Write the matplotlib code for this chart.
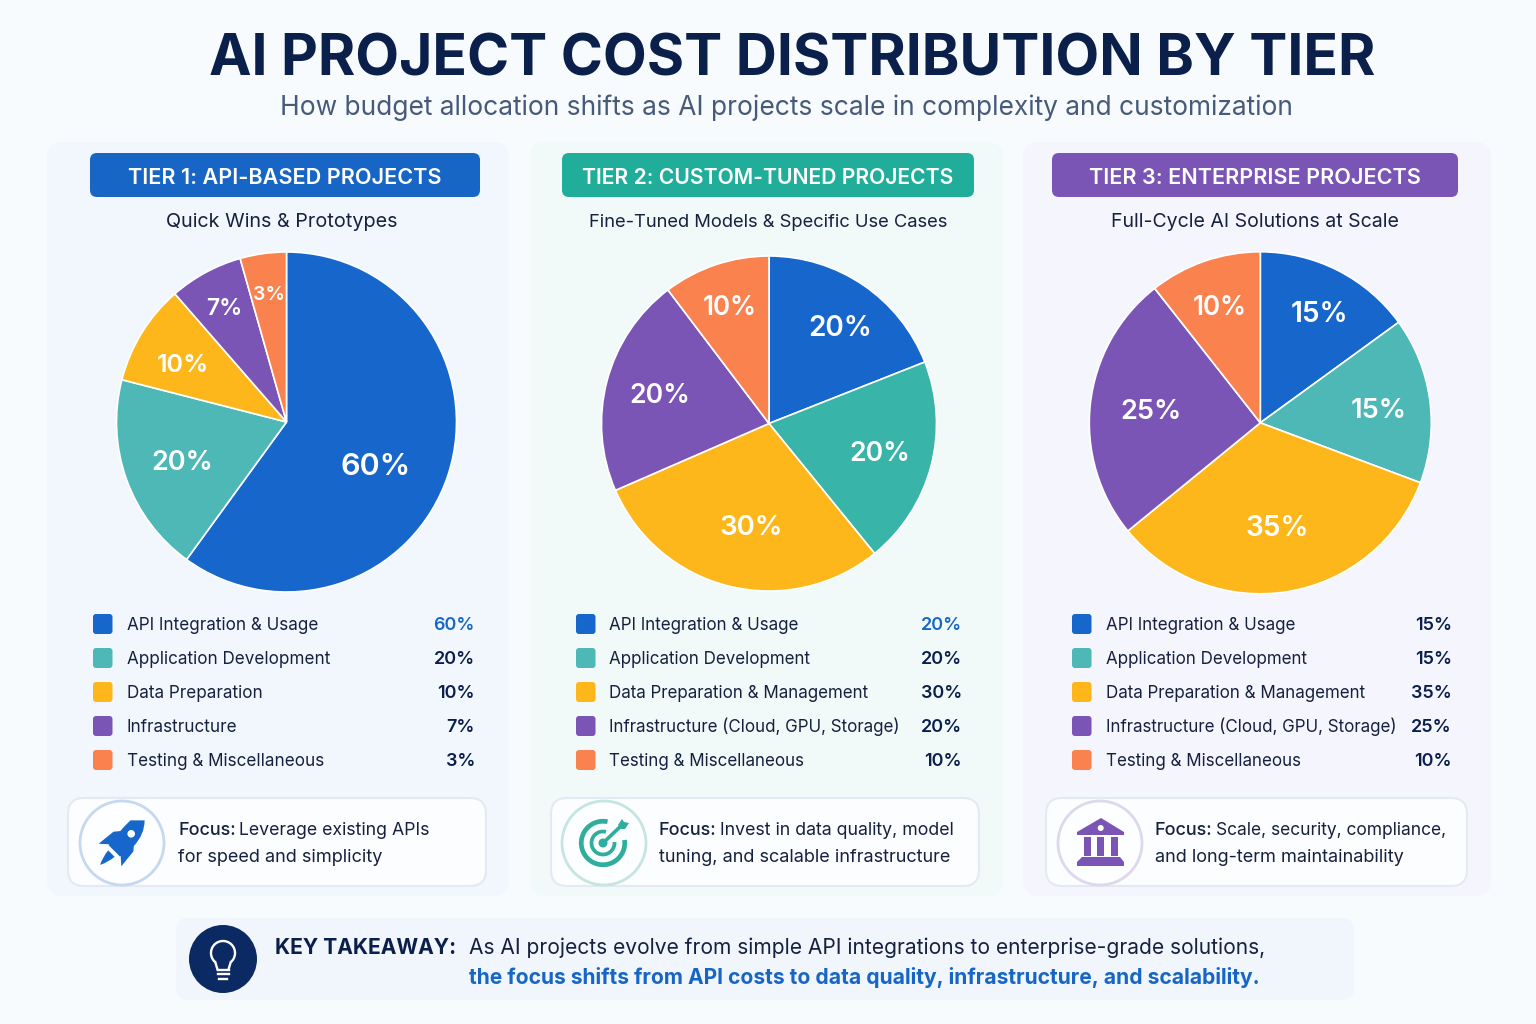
import matplotlib
matplotlib.use("Agg")
import matplotlib.pyplot as plt
from matplotlib.patches import FancyBboxPatch, Circle, Polygon, Arc, PathPatch, Rectangle
from matplotlib.path import Path
from matplotlib.transforms import Affine2D

plt.rcParams['font.family'] = ['Inter', 'DejaVu Sans']

# data
tier_titles = ["TIER 1: API-BASED PROJECTS", "TIER 2: CUSTOM-TUNED PROJECTS", "TIER 3: ENTERPRISE PROJECTS"]
tier_subtitles = ["Quick Wins & Prototypes", "Fine-Tuned Models & Specific Use Cases", "Full-Cycle AI Solutions at Scale"]
# the percentages printed on the chart
tier1_values = [60, 20, 10, 7, 3]
tier2_values = [20, 20, 30, 20, 10]
tier3_values = [15, 15, 35, 25, 10]
# the wedges in the picture are not quite the printed numbers, these are measured off the slices
tier1_drawn = [60, 19, 9.6, 7, 4.4]
tier2_drawn = [19, 20.1, 29.3, 21.2, 10.3]
tier3_drawn = [15, 15.7, 33.4, 25.3, 10.6]
tier1_labels = ["API Integration & Usage", "Application Development", "Data Preparation", "Infrastructure", "Testing & Miscellaneous"]
tier2_labels = ["API Integration & Usage", "Application Development", "Data Preparation & Management",
                "Infrastructure (Cloud, GPU, Storage)", "Testing & Miscellaneous"]
tier3_labels = tier2_labels
focus_text = [("Leverage existing APIs", "for speed and simplicity"),
              ("Invest in data quality, model", "tuning, and scalable infrastructure"),
              ("Scale, security, compliance,", "and long-term maintainability")]

# styles and layout, in pixels
colors = ["#1766cc", "#4db8b5", "#fdb71a", "#7a55b5", "#f9824f"]
NAVY = "#0b1f4b"
INK = "#16213f"
panels = [(47, 509, "#f2f7fd"), (530, 1003, "#f1f9f9"), (1023, 1491, "#f5f5fd")]
headers = [(90, 480, "#1766c6"), (562, 974, "#20ae9b"), (1052, 1458, "#7a55b5")]
pies = [(286.5, 422, 170), (769, 423.5, 167.5), (1260.3, 422.8, 171)]
slice_colors = [colors, ["#1766cc", "#39b4a8", "#fdb71a", "#7a55b5", "#f9824f"], colors]
pct_xy = [[(376, 464), (182, 460), (183, 362), (224, 306), (269, 292)],
          [(840, 325), (880, 451), (751, 525), (660, 393), (730, 305)],
          [(1319, 311), (1379, 408), (1277, 525), (1151, 409), (1220, 305)]]
pct_sizes = [[30.5, 27, 25, 23, 19.5], [28, 26.6, 27.6, 26.6, 26], [28, 27.3, 28, 27.2, 26]]
header_size = [21.6, 21.1, 21.6]
sub_x = [282, 768.5, 1254.5]
sub_size = [19.8, 18.4, 19.5]
label_size = [17.1, 16.95, 16.95]
legend_x = [(93, 127, 474), (576, 609, 961), (1072, 1106, 1451)]
legend_y = [624, 658, 692, 726, 760]
cards = [(68, 486), (551, 979), (1046, 1467)]
circles = [(122, "#c5d8ef"), (604, "#c5e6e0"), (1100, "#ddd8ee")]
focus_x = [178, 659, 1155]
focus_size = [17.7, 17.7, 17.4]

fig = plt.figure(figsize=(15.36, 10.24), dpi=100, facecolor="#f8fbfe")
ax = fig.add_axes([0, 0, 1, 1])
ax.axis("off")


def px(size):
    return size * 0.72


def txt(x, y, s, size, color=INK, weight="normal", ha="left", zorder=6):
    return ax.text(x, y, s, fontsize=px(size), color=color, fontweight=weight, ha=ha, va="baseline", zorder=zorder)


def rbox(x0, y0, x1, y1, r, fc, ec="none", lw=0, zorder=2):
    p = FancyBboxPatch((x0 + r, y0 + r), x1 - x0 - 2 * r, y1 - y0 - 2 * r, boxstyle=f"round,pad={r},rounding_size={r}",
                       fc=fc, ec=ec, lw=lw, zorder=zorder)
    ax.add_patch(p)


def draw_rocket(color):
    # drawn pointing up around the origin, then rotated
    tf = Affine2D().rotate_deg(45).translate(122, 843) + ax.transData
    body = Path([(0, -32), (10, -22), (10.5, -6), (8, 11), (-8, 11), (-10.5, -6), (-10, -22), (0, -32)],
                [Path.MOVETO, Path.CURVE3, Path.CURVE3, Path.LINETO, Path.LINETO, Path.CURVE3, Path.CURVE3, Path.LINETO])
    ax.add_patch(PathPatch(body, fc=color, ec="none", transform=tf, zorder=5))
    ax.add_patch(Polygon([(-9, -8), (-14, -2), (-16, 17), (-7, 9)], fc=color, ec="none", transform=tf, zorder=5))
    ax.add_patch(Polygon([(9, -8), (14, -2), (16, 17), (7, 9)], fc=color, ec="none", transform=tf, zorder=5))
    flame = Path([(-4.5, 15), (4.5, 15), (4, 23), (0, 31), (-4, 23), (-4.5, 15)],
                 [Path.MOVETO, Path.LINETO, Path.CURVE3, Path.CURVE3, Path.CURVE3, Path.CURVE3])
    ax.add_patch(PathPatch(flame, fc=color, ec="none", transform=tf, zorder=5))
    ax.add_patch(Circle((0, -13), 3.8, fc="white", ec="none", transform=tf, zorder=6))


def draw_target(color):
    cx, cy = 603, 843
    ax.add_patch(Arc((cx, cy), 43.5, 43.5, theta1=-8, theta2=282, ec=color, lw=3.4, zorder=5))
    ax.add_patch(Arc((cx, cy), 23, 23, theta1=-5, theta2=285, ec=color, lw=2.7, zorder=5))
    ax.add_patch(Circle((cx, cy), 4.5, fc=color, ec="none", zorder=5))
    ax.plot([cx, 622], [cy, 825], color=color, lw=2.6, solid_capstyle="round", zorder=5)
    ax.add_patch(Polygon([(618, 825), (622, 819), (624, 822), (629, 823), (625, 829), (621, 829)], fc=color, ec="none", zorder=5))


def draw_bank(color):
    ax.add_patch(Polygon([(1101, 818), (1124, 832), (1124, 835), (1077, 835), (1077, 832)], fc=color, ec="none", zorder=5))
    ax.add_patch(Circle((1100.7, 828), 3, fc="white", ec="none", zorder=6))
    for x in (1084, 1097, 1111):
        ax.add_patch(Rectangle((x, 837), 7, 19, fc=color, ec="none", zorder=5))
    ax.add_patch(Polygon([(1082, 857), (1120, 857), (1124, 862), (1124, 866), (1077, 866), (1077, 862)], fc=color, ec="none", zorder=5))


def draw_bulb():
    cx, cy = 223, 953
    ax.add_patch(Arc((cx, cy), 24, 24, theta1=130, theta2=50, ec="white", lw=1.7, zorder=5))
    ax.plot([cx - 7.7, cx - 5.5], [cy + 9.2, 969.5], color="white", lw=1.7, zorder=5)
    ax.plot([cx + 7.7, cx + 5.5], [cy + 9.2, 969.5], color="white", lw=1.7, zorder=5)
    ax.plot([cx - 5.5, cx + 5.5], [969.5, 969.5], color="white", lw=1.7, zorder=5)
    ax.plot([cx - 5.5, cx + 5.5], [973.5, 973.5], color="white", lw=1.7, zorder=5)
    ax.plot([cx - 4, cx + 4], [979, 979], color="white", lw=1.7, zorder=5)


all_values = [tier1_values, tier2_values, tier3_values]
all_drawn = [tier1_drawn, tier2_drawn, tier3_drawn]
all_labels = [tier1_labels, tier2_labels, tier3_labels]

# pies first, since ax.pie resets the limits; y is flipped below so counterclock reads clockwise on screen
for i in range(3):
    cx, cy, r = pies[i]
    ax.pie(all_drawn[i], colors=slice_colors[i], startangle=-90, counterclock=True, center=(cx, cy), radius=r,
           wedgeprops=dict(edgecolor="white", linewidth=1.2, zorder=3))

ax.set_aspect("auto")
ax.set_xlim(0, 1536)
ax.set_ylim(1024, 0)
ax.axis("off")

# title block
txt(792, 75, "AI PROJECT COST DISTRIBUTION BY TIER", 57, color=NAVY, weight="bold", ha="center")
txt(786, 115, "How budget allocation shifts as AI projects scale in complexity and customization", 26.35, color="#475a78", ha="center")

icons = [lambda: draw_rocket("#1766cc"), lambda: draw_target("#2fae9e"), lambda: draw_bank("#7a55b5")]

for i in range(3):
    x0, x1, bg = panels[i]
    rbox(x0, 142, x1, 896, 16, bg, zorder=1)

    hx0, hx1, hc = headers[i]
    rbox(hx0, 153, hx1, 197, 7, hc)
    txt((hx0 + hx1) / 2 - 0.5, 184, tier_titles[i], header_size[i], color="white", weight="semibold", ha="center")
    txt(sub_x[i], 227, tier_subtitles[i], sub_size[i], ha="center")

    for j, val in enumerate(all_values[i]):
        lx, ly = pct_xy[i][j]
        ax.text(lx, ly + 3, f"{val}%", fontsize=px(pct_sizes[i][j]), color="white", fontweight="semibold",
                ha="center", va="center", zorder=6)

    sx, tx, vx = legend_x[i]
    for j, y in enumerate(legend_y):
        rbox(sx, y - 10, sx + 19.5, y + 10, 3, colors[j])
        txt(tx, y + 6, all_labels[i][j], label_size[i])
        vcolor = "#1766c6" if (j == 0 and i < 2) else NAVY
        txt(vx + 1, y + 6, f"{all_values[i][j]}%", 18, color=vcolor, weight="semibold", ha="right")

    # focus card
    c0, c1 = cards[i]
    rbox(c0, 798, c1, 886, 16, "#fcfdff", ec="#e3eaf4", lw=1.5, zorder=2)
    ccx, cec = circles[i]
    ax.add_patch(Circle((ccx, 843), 42, fc="#fdfeff", ec=cec, lw=2, zorder=3))
    icons[i]()

    head = txt(focus_x[i], 835, "Focus:", 18, weight="medium")
    fig.canvas.draw()
    bb = head.get_window_extent()
    txt(bb.x1 + 3.5, 835, focus_text[i][0], focus_size[i])
    txt(focus_x[i], 862, focus_text[i][1], 18.1)

# key takeaway box
rbox(176, 918, 1354, 1000, 12, "#f1f5fc", zorder=1)
ax.add_patch(Circle((223, 959), 34, fc="#0b2a63", ec="none", zorder=3))
draw_bulb()
txt(275, 954, "KEY TAKEAWAY:", 21, color=NAVY, weight="bold")
txt(469, 954, "As AI projects evolve from simple API integrations to enterprise-grade solutions,", 21, color=INK)
txt(469, 984, "the focus shifts from API costs to data quality, infrastructure, and scalability.", 21, color="#1766c6", weight="bold")

fig.savefig("out.png", dpi=100, facecolor=fig.get_facecolor())
